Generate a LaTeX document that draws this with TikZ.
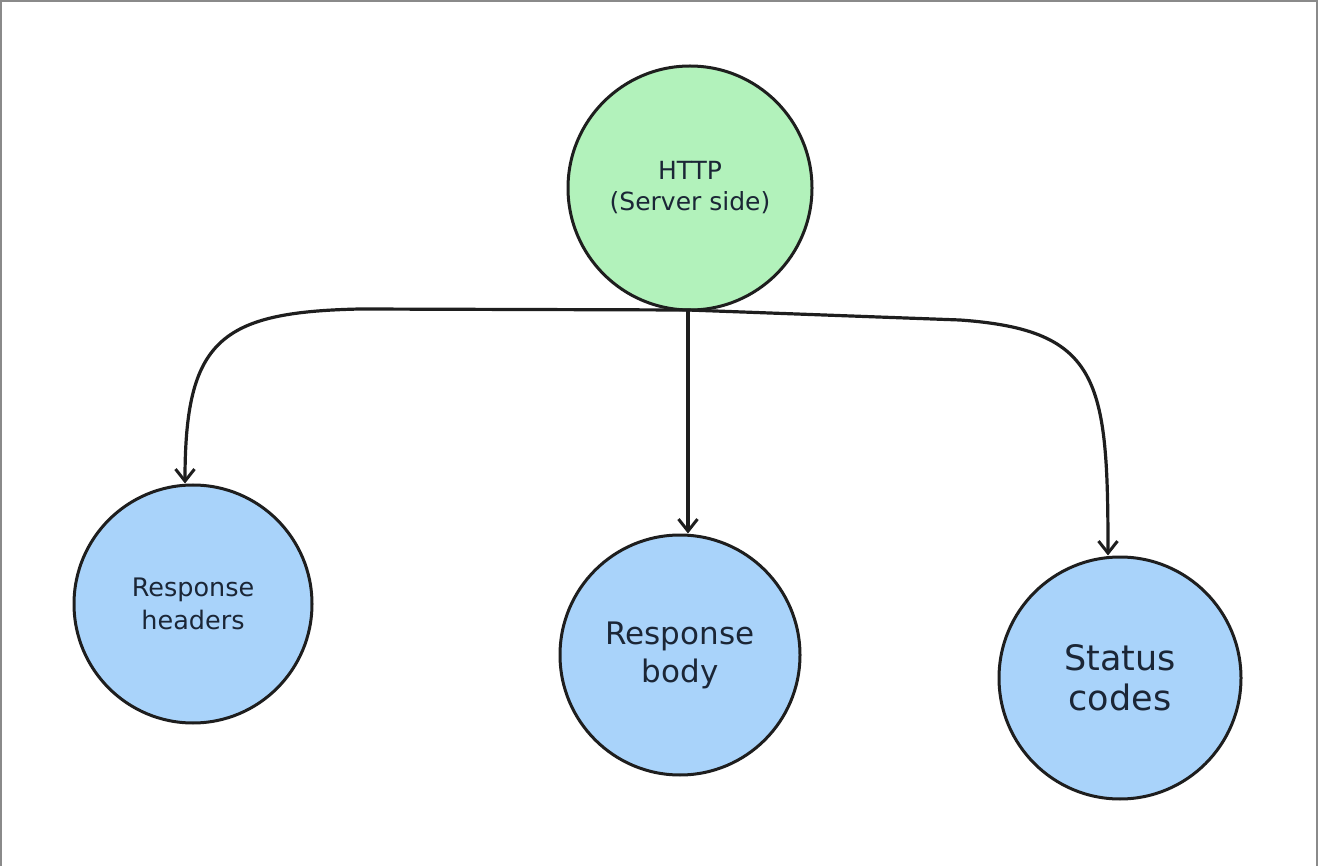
\documentclass[tikz,border=0pt]{standalone}
\usepackage{fontspec}
\setmainfont{DejaVu Sans}
\usepackage{xcolor}
\usetikzlibrary{arrows.meta}
\definecolor{servergreen}{HTML}{B2F2BB}
\definecolor{partblue}{HTML}{A9D3FA}
\definecolor{inkline}{HTML}{1E1E1E}
\definecolor{inktext}{HTML}{1B2636}
\definecolor{framegray}{HTML}{8A8A8A}

\begin{document}
\begin{tikzpicture}[x=1pt,y=-1pt,
        bubble/.style={circle,draw=inkline,line width=3pt,align=center,text=inktext,inner sep=0pt},
        flow/.style={draw=inkline,line width=3.2pt,-{Straight Barb[length=12pt,width=19pt,line width=3pt]}}]
        \useasboundingbox (0,0) rectangle (1318,866);
        \draw[framegray,line width=2.5pt] (1.2,866) -- (1.2,1.2) -- (1316.8,1.2) -- (1316.8,866);

        \node[bubble,fill=servergreen,minimum size=244pt,font=\fontsize{25}{31}\selectfont] (http) at (690,188) {HTTP\\(Server side)};
        \node[bubble,fill=partblue,minimum size=238pt,font=\fontsize{25.5}{33}\selectfont] (headers) at (193,604) {Response\\headers};
        \node[bubble,fill=partblue,minimum size=240pt,font=\fontsize{31}{38}\selectfont] (body) at (680,655) {Response\\body};
        \node[bubble,fill=partblue,minimum size=242pt,font=\fontsize{35}{40}\selectfont] (status) at (1120,678) {Status\\codes};

        \coordinate (fork) at (688,310);
        \draw[flow] (fork) -- (360,309) .. controls (220,312) and (185,340) .. ([xshift=-8pt]headers.north);
        \draw[flow] (fork) -- (fork |- body.north);
        \draw[flow] (fork) -- (960,320) .. controls (1100,330) and (1108,380) .. ([xshift=-12pt]status.north);
    \end{tikzpicture}
\end{document}
